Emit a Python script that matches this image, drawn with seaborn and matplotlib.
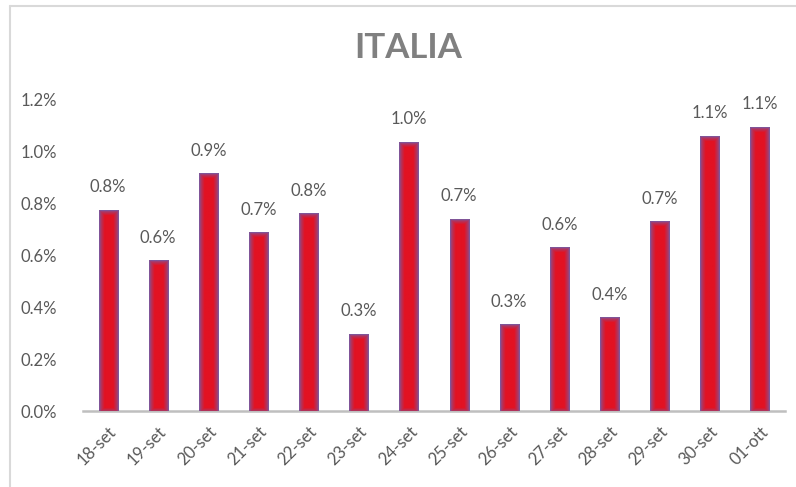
import numpy as np
import pandas as pd
import matplotlib
matplotlib.use("Agg")
import matplotlib.pyplot as plt
from matplotlib.lines import Line2D
from matplotlib.ticker import FuncFormatter, FixedLocator
import seaborn as sns

dates = ["18-set", "19-set", "20-set", "21-set", "22-set", "23-set", "24-set",
         "25-set", "26-set", "27-set", "28-set", "29-set", "30-set", "01-ott"]
values = [0.773, 0.577, 0.912, 0.685, 0.758, 0.296, 1.032,
          0.738, 0.331, 0.627, 0.358, 0.727, 1.055, 1.090]
labels = ["0.8%", "0.6%", "0.9%", "0.7%", "0.8%", "0.3%", "1.0%",
          "0.7%", "0.3%", "0.6%", "0.4%", "0.7%", "1.1%", "1.1%"]
yticks = [0.0, 0.2, 0.4, 0.6, 0.8, 1.0, 1.2]
title = "ITALIA"

df = pd.DataFrame({"date": dates, "value": values})

sns.set_theme(style="white")
plt.rcParams['font.family'] = ['Lato', 'DejaVu Sans']

W, H = 796, 487
fig = plt.figure(figsize=(W / 100, H / 100), dpi=100)
ax = fig.add_axes([83 / W, 1 - 411 / H, (785 - 83) / W, (411 - 99) / H])

RED = np.array([0xE2, 0x12, 0x22]) / 255
EDGE = np.array([0x80, 0x55, 0x98]) / 255

sns.barplot(data=df, x="date", y="value", color="#E21222", width=0.38,
            saturation=1, ax=ax, zorder=2)

ax.set_xlim(-0.5, len(dates) - 0.5)
ax.set_ylim(0, 1.2)

# gradient overlay on each bar (edge fade like the original)
px_per_x = (785 - 83) / len(dates)
px_per_y = (411 - 99) / 1.2
for p in ax.patches:
    x0, y0, w, h = p.get_x(), p.get_y(), p.get_width(), p.get_height()
    nx = max(int(round(w * px_per_x)), 2)
    ny = max(int(round(h * px_per_y)), 2)
    xs = np.arange(nx) + 0.5
    ys = np.arange(ny) + 0.5
    X, Y = np.meshgrid(xs, ys)
    d = np.minimum.reduce([X, nx - X, ny - Y, Y + 2.0])
    t = np.clip((d - 0.5) / 5.0, 0, 1) ** 0.7
    img = EDGE[None, None, :] * (1 - t[..., None]) + RED[None, None, :] * t[..., None]
    ax.imshow(img, extent=[x0, x0 + w, y0, y0 + h], origin="lower",
              aspect="auto", interpolation="bilinear", zorder=3)

ax.set_xlim(-0.5, len(dates) - 0.5)
ax.set_ylim(0, 1.2)

# value labels
for i, (v, lab) in enumerate(zip(values, labels)):
    ax.annotate(lab, (i, v), xytext=(0, 11), textcoords="offset points",
                ha="center", va="bottom", fontsize=12, color="#595959")

# axes styling
for s in ["top", "right", "left"]:
    ax.spines[s].set_visible(False)
ax.spines["bottom"].set_color("#BFBFBF")
ax.spines["bottom"].set_linewidth(1.8)

ax.yaxis.set_major_locator(FixedLocator(yticks))
ax.yaxis.set_major_formatter(FuncFormatter(lambda v, _: f"{v:.1f}%"))
ax.tick_params(axis="y", length=0, pad=19, labelsize=12, labelcolor="#595959")

ax.set_xticks(range(len(dates)))
ax.set_xticklabels(dates, rotation=45, ha="right", rotation_mode="anchor")
ax.tick_params(axis="x", which="major", length=0, pad=9, labelsize=12,
               labelcolor="#595959")
ax.set_xticks(np.arange(-0.5, len(dates), 1.0), minor=True)
ax.tick_params(axis="x", which="minor", length=5, width=1.8, color="#BFBFBF",
               direction="out")

ax.set_xlabel("")
ax.set_ylabel("")
ax.grid(False)

fig.text(408 / W, 1 - 48 / H, title, ha="center", va="center", fontsize=25,
         fontweight="bold", color="#808080")

# chart frame (top and left visible)
fig.add_artist(Line2D([9.5 / W, 9.5 / W], [0, 1 - 5.5 / H], transform=fig.transFigure,
                      color="#D9D9D9", lw=1.5))
fig.add_artist(Line2D([9.5 / W, 1], [1 - 5.5 / H, 1 - 5.5 / H], transform=fig.transFigure,
                      color="#D9D9D9", lw=1.5))

fig.savefig("out.png", dpi=100)
